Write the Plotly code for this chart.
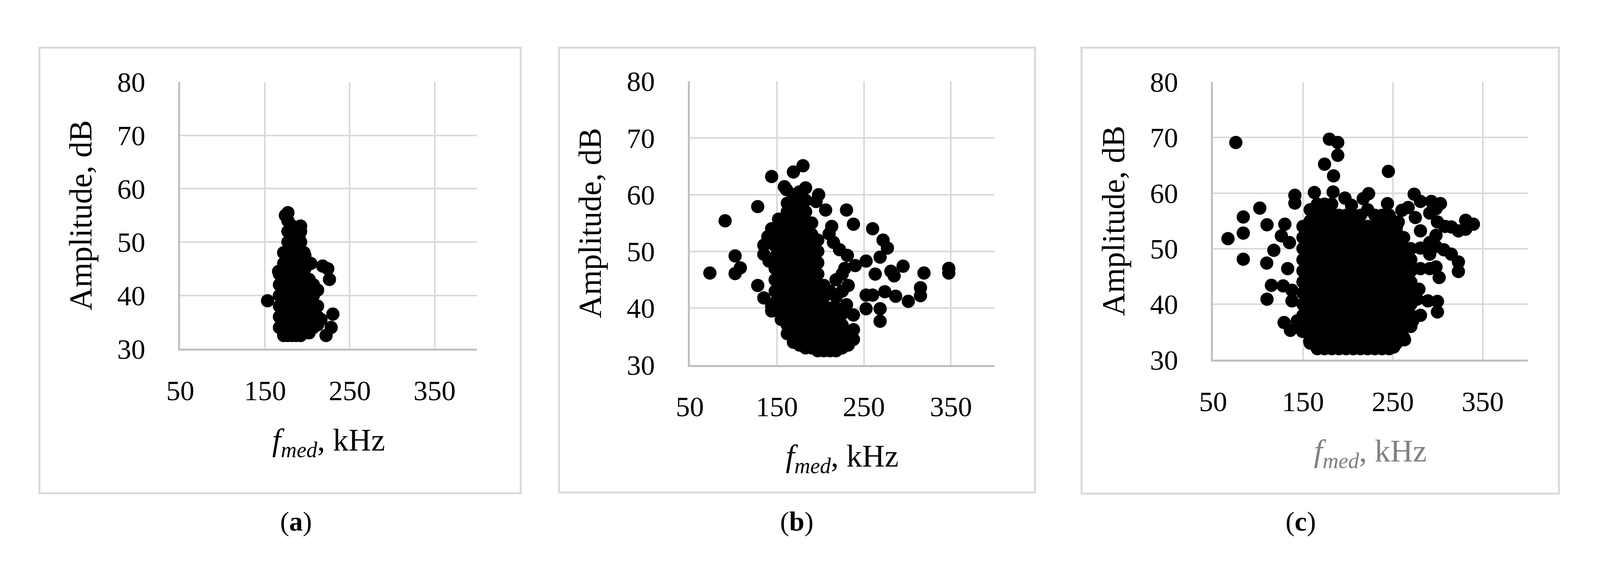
import plotly.graph_objects as go

# ---- panel (a): dense core columns (x kHz -> list of amplitudes) plus outliers
a_core_x = [167, 172, 177, 182, 187, 192, 197, 202, 207, 212]
a_core_y = [
    [34, 36, 38, 40, 42, 44],
    [32.5, 34, 36, 38, 40, 42, 44, 46, 48],
    [32.5, 34, 36, 38, 40, 42, 44, 46, 48, 50, 52, 54, 55.5],
    [32.5, 34, 36, 38, 40, 42, 44, 46, 48, 50, 53],
    [32.5, 34, 36, 38, 40, 42, 44, 46, 48, 50],
    [32.5, 34, 36, 38, 40, 42, 44, 46, 48, 50, 52, 53],
    [33, 35, 37, 39, 41, 43, 45, 47.5],
    [33, 35, 37, 39, 41, 43],
    [34, 36, 38, 40, 42],
    [34.5, 36, 38, 41],
]
a_out_x = [153, 226, 230, 228, 222, 224, 218, 166, 174, 190, 196, 204, 216]
a_out_y = [39, 43, 36.5, 34, 32.5, 45, 45.5, 44.5, 55, 51, 48, 46, 35.5]

# ---- panel (b)
b_core_x = [148, 155, 162, 169, 176, 183, 190, 197, 204, 211, 218, 225, 232]
b_core_y = [
    [41, 43, 45, 47, 49, 51, 53],
    [38, 40, 42, 44, 46, 48, 50, 52, 54, 55],
    [35.5, 37, 39, 41, 43, 45, 47, 49, 51, 53, 55, 57, 58.5],
    [34, 36, 38, 40, 42, 44, 46, 48, 50, 52, 54, 56, 58, 60],
    [33.5, 35, 37, 39, 41, 43, 45, 47, 49, 51, 53, 55, 57, 59, 60.5],
    [33, 35, 37, 39, 41, 43, 45, 47, 49, 51, 53, 55, 57, 59],
    [33, 35, 37, 39, 41, 43, 45, 47, 49, 51, 53, 55],
    [32.5, 34, 36, 38, 40, 42, 44, 46, 48, 50, 52],
    [32.5, 34, 36, 38, 40, 42, 44],
    [32.5, 34, 36, 38, 40, 43],
    [32.5, 34, 36, 38, 40, 42, 45],
    [33, 35, 37, 39, 43, 46],
    [33.5, 35.5, 44],
]
b_out_x = [73, 90.5, 102, 102, 108, 128, 128, 144, 169, 180, 158.6, 206, 230, 238,
           260, 272, 277, 268.6, 295, 301, 315, 315, 319, 347.5, 347.5, 268.6, 268.6,
           252.5, 286.5, 284.7, 281, 238, 238, 238, 231, 230, 252.5, 252.5, 260, 274,
           263, 240, 228, 215, 213, 210, 222, 144, 144, 135, 135, 139.6, 144, 152,
           161, 183, 198, 195, 167, 135, 141]
b_out_y = [46.2, 55.4, 49.2, 46.1, 47.1, 57.9, 44, 63.2, 64, 65.1, 61.4, 57.3, 57.3, 54.8,
           54, 52, 50.6, 49, 47.4, 41.2, 42.2, 43.6, 46.2, 47, 46.2, 39.9, 37.7,
           39.9, 42.1, 45.7, 46.5, 38.8, 36.2, 34.5, 49.3, 40.6, 48.3, 42.3, 42.3, 42.9,
           46, 47.5, 47, 51.6, 54.4, 53.1, 50.3, 39.5, 40.3, 41.8, 51.1, 52.6, 54, 55.7,
           60.9, 61.2, 60, 58.8, 58.8, 49.5, 48.3]

# ---- panel (c)
c_core_x = [150, 158, 166, 174, 182, 190, 198, 206, 214, 222, 230, 238, 246, 254, 262, 270]
c_core_y = [
    [36, 38, 40, 42, 44, 46, 48, 50, 52, 54],
    [33, 35, 37, 39, 41, 43, 45, 47, 49, 51, 53, 55, 57],
    [32, 34, 36, 38, 40, 42, 44, 46, 48, 50, 52, 54, 56, 58],
    [32, 34, 36, 38, 40, 42, 44, 46, 48, 50, 52, 54, 56, 58],
    [32, 34, 36, 38, 40, 42, 44, 46, 48, 50, 52, 54, 56, 58],
    [32, 34, 36, 38, 40, 42, 44, 46, 48, 50, 52, 54, 56],
    [32, 34, 36, 38, 40, 42, 44, 46, 48, 50, 52, 54, 56],
    [32, 34, 36, 38, 40, 42, 44, 46, 48, 50, 52, 54, 56],
    [32, 34, 36, 38, 40, 42, 44, 46, 48, 50, 52, 54, 56],
    [32, 34, 36, 38, 40, 42, 44, 46, 48, 50, 52, 54, 57],
    [32, 34, 36, 38, 40, 42, 44, 46, 48, 50, 52, 54, 56],
    [32, 34, 36, 38, 40, 42, 44, 46, 48, 50, 52, 54, 56],
    [32, 34, 36, 38, 40, 42, 44, 46, 48, 50, 52, 54, 56],
    [33, 35, 37, 39, 41, 43, 45, 47, 49, 51, 53, 54],
    [34, 36, 38, 40, 42, 44, 46, 48, 50, 52],
    [36, 38, 40, 42, 44, 46, 48, 50],
]
c_out_x = [66.6, 75.3, 83.6, 83.6, 83.6, 102, 110, 117.6, 109.7, 110, 114.9, 126, 129.8,
           129, 136, 135, 133, 128, 137.8, 137.8, 141, 141, 143.6, 149.6, 157.5, 179.4,
           188.7, 188.7, 174, 184, 245, 162.7, 183.5, 196.7, 204, 223, 217, 244, 273.7,
           275, 280.7, 292.8, 303, 298, 291, 299.6, 308, 315, 322.9, 331, 339.6, 331,
           298, 291, 298, 306.7, 315, 322.9, 322.9, 301.5, 298, 291, 291, 299.6, 299.6,
           289, 280.7, 272, 263, 251, 267, 260, 256, 280.7, 280.7, 280.7, 279, 277]
c_out_y = [51.8, 69.1, 55.7, 52.8, 48.1, 57.3, 54.3, 49.7, 47.4, 40.9, 43.4, 52.3, 54.4,
           36.7, 35.3, 51.1, 46.4, 43.3, 42.5, 40.6, 59.6, 58.2, 37, 35.1, 33.3, 69.7,
           69.1, 66.8, 65.2, 63.1, 63.9, 60.1, 60.2, 59.1, 57.8, 59.9, 59, 58.1, 59.8,
           55.6, 58.5, 58.5, 58.1, 57.2, 56.4, 54.8, 54, 53.9, 53.2, 55.1, 54.4, 53.5,
           52.4, 51.1, 50.4, 49.8, 49, 47.6, 45.9, 44.8, 46.7, 49, 46.4, 40.5, 38.6,
           40.6, 38, 37, 33.6, 32.3, 57.4, 56.9, 54.8, 53.2, 50.1, 46.4, 42.7, 40.9]

x_ticks = [50, 150, 250, 350]
y_ticks = [30, 40, 50, 60, 70, 80]
panel_labels = ["(<b>a</b>)", "(<b>b</b>)", "(<b>c</b>)"]

W, H = 4408, 1506


def flatten(core_x, core_y, out_x, out_y):
    xs, ys = [], []
    for x, col in zip(core_x, core_y):
        xs += [x] * len(col)
        ys += col
    return xs + out_x, ys + out_y


panels = [
    flatten(a_core_x, a_core_y, a_out_x, a_out_y),
    flatten(b_core_x, b_core_y, b_out_x, b_out_y),
    flatten(c_core_x, c_core_y, c_out_x, c_out_y),
]

# plot areas in pixels: (x left, x right, y top(80), y bottom(30))
areas = [(455, 1283, 174, 904), (1877, 2727, 172, 948), (3337, 4215, 174, 934)]
boxes = [(62, 1405, 80, 1299), (1512, 2840, 80, 1297), (2970, 4302, 80, 1300)]
label_x = [731, 2176, 3626]
xtitle_colors = ["black", "black", "#808080"]

fig = go.Figure()
serif = "Liberation Serif"

for n, (xs, ys) in enumerate(panels):
    s = "" if n == 0 else str(n + 1)
    fig.add_trace(go.Scatter(
        x=xs, y=ys, mode="markers", xaxis="x" + s, yaxis="y" + s,
        marker=dict(color="black", size=34), showlegend=False))
    l, r, t, b = areas[n]
    fig.layout["xaxis" + s] = dict(
        domain=[l / W, r / W], anchor="y" + s, range=[50, 400],
        tickvals=x_ticks, showgrid=True, gridcolor="#d9d9d9", gridwidth=4,
        showline=True, linecolor="#bfbfbf", linewidth=5, zeroline=False,
        ticks="", ticklabelstandoff=40,
        tickfont=dict(family=serif, size=72, color="black"),
        title=dict(text="<i>f<sub>med</sub></i>, kHz", standoff=60,
                   font=dict(family=serif, size=80, color=xtitle_colors[n])))
    fig.layout["yaxis" + s] = dict(
        domain=[1 - b / H, 1 - t / H], anchor="x" + s, range=[30, 80],
        tickvals=y_ticks, showgrid=True, gridcolor="#d9d9d9", gridwidth=4,
        showline=True, linecolor="#bfbfbf", linewidth=5, zeroline=False,
        ticks="", ticklabelstandoff=70,
        tickfont=dict(family=serif, size=72, color="black"),
        title=dict(text="Amplitude, dB", standoff=40,
                   font=dict(family=serif, size=82, color="black")))
    bl, br, bt, bb = boxes[n]
    fig.add_shape(type="rect", xref="paper", yref="paper",
                  x0=bl / W, x1=br / W, y0=1 - bb / H, y1=1 - bt / H,
                  line=dict(color="#d9d9d9", width=5))
    fig.add_annotation(text=panel_labels[n], xref="paper", yref="paper",
                       x=label_x[n] / W, y=1 - 1420 / H, showarrow=False,
                       font=dict(family=serif, size=70, color="black"))

fig.update_layout(margin=dict(l=0, r=0, t=0, b=0),
                  paper_bgcolor="white", plot_bgcolor="white")

fig.write_html("out.html", default_width="100%", default_height="100%")
